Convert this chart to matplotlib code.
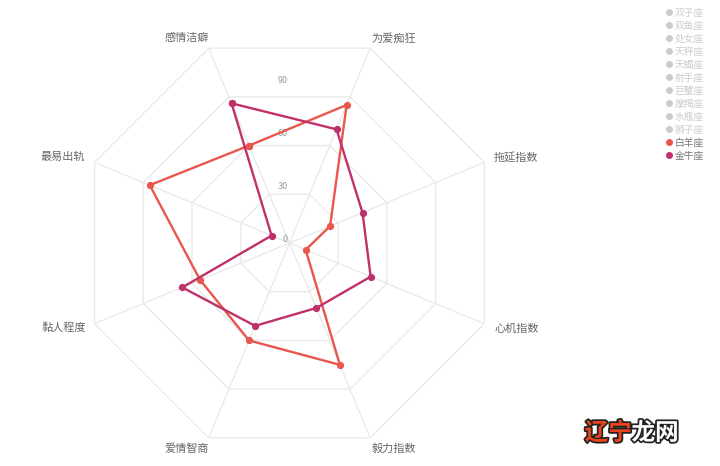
import numpy as np
import matplotlib
matplotlib.use("Agg")
import matplotlib.pyplot as plt
import matplotlib.patheffects as pe
from matplotlib.lines import Line2D

plt.rcParams['font.family'] = ['Noto Sans CJK SC', 'DejaVu Sans']

# indicators, counter-clockwise starting from the upper-left axis
indicators = ["感情洁癖", "最易出轨", "黏人程度", "爱情智商", "毅力指数", "心机指数", "拖延指数", "为爱痴狂"]
aries = [60, 86, 55, 60, 75, 10, 25, 85]      # 白羊座
taurus = [86, 11, 66, 51, 40, 50, 45, 70]     # 金牛座
ticks = [0, 30, 60, 90]
rings = [30, 60, 90, 120]
rmax = 120

legend_names = ["双子座", "双鱼座", "处女座", "天秤座", "天蝎座", "射手座",
                "巨蟹座", "摩羯座", "水瓶座", "狮子座", "白羊座", "金牛座"]

c_aries = "#e8564d"
c_taurus = "#c0306a"
grid_c = "#e8e8e8"

fig = plt.figure(figsize=(7.2, 4.66), dpi=100)
ax = fig.add_axes([0.109, 0.0257, 0.586, 0.9056], polar=True)
ax.set_theta_offset(np.radians(112.5))
ax.set_ylim(0, rmax)
ax.grid(False)
ax.spines['polar'].set_visible(False)
ax.set_xticks([])
ax.set_yticks([])

n = len(indicators)
theta = np.arange(n) * 2 * np.pi / n
theta_c = np.append(theta, theta[0])

# octagon rings and axis lines
for r in rings:
    ax.plot(theta_c, [r] * (n + 1), color=grid_c, lw=0.9, zorder=1)
for t in theta:
    ax.plot([t, t], [0, rmax], color=grid_c, lw=0.9, zorder=1)

# tick labels along the vertical
t_up = np.radians(90 - 112.5)
for v in ticks:
    ax.annotate(str(v), xy=(t_up, v), xytext=(-2, 4), textcoords='offset pixels',
                ha='right', va='center', fontsize=6.5, color="#999999")

# indicator names
offsets = {
    "感情洁癖": (0, 10, 'right'), "为爱痴狂": (1, 10, 'left'),
    "拖延指数": (9, 4, 'left'), "心机指数": (10, -5, 'left'),
    "毅力指数": (1, -11, 'left'), "爱情智商": (0, -11, 'right'),
    "黏人程度": (-9, -4, 'right'), "最易出轨": (-10, 5, 'right'),
}
for t, name in zip(theta, indicators):
    dx, dy, ha = offsets[name]
    ax.annotate(name, xy=(t, rmax), xytext=(dx, dy), textcoords='offset pixels',
                ha=ha, va='center', fontsize=8, color="#666666")

for vals, c in [(aries, c_aries), (taurus, c_taurus)]:
    ax.plot(theta_c, vals + vals[:1], color=c, lw=1.7, marker='o', markersize=4.2,
            zorder=3, clip_on=False)

# legend
handles = []
colors = []
for name in legend_names:
    if name == "白羊座":
        c = c_aries
        tc = "#777777"
    elif name == "金牛座":
        c = c_taurus
        tc = "#777777"
    else:
        c = "#cccccc"
        tc = "#cccccc"
    handles.append(Line2D([], [], marker='o', linestyle='', color=c, markersize=4))
    colors.append(tc)
fig.legend(handles, legend_names, loc='upper left', bbox_to_anchor=(0.915, 0.998),
           frameon=False, fontsize=7, labelcolor=colors, handlelength=0.6,
           handletextpad=0.3, labelspacing=0.31, borderpad=0.2)

# watermark
stroke = [pe.withStroke(linewidth=2.5, foreground="#222222")]
fig.text(0.812, 0.071, "辽宁", fontsize=17, fontweight='bold', color="#e8431c",
         ha='left', va='center', path_effects=stroke)
fig.text(0.877, 0.071, "龙网", fontsize=17, fontweight='bold', color="white",
         ha='left', va='center', path_effects=stroke)

fig.savefig("out.png", dpi=100, facecolor='white')
